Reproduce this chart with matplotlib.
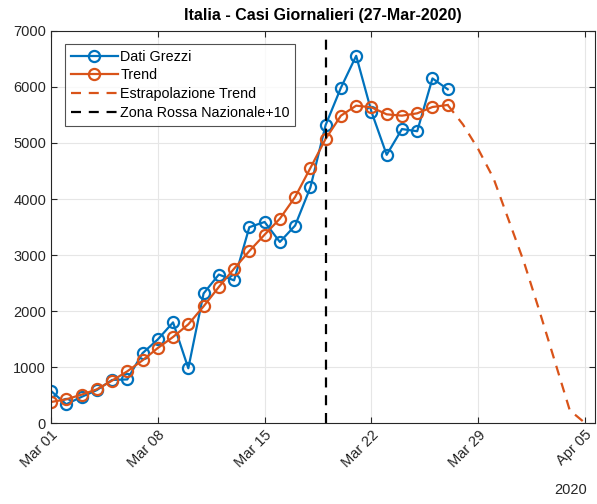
import numpy as np
import matplotlib
matplotlib.use("Agg")
import matplotlib.pyplot as plt
import matplotlib.dates as mdates
from datetime import datetime, timedelta

plt.rcParams['font.family'] = ['Liberation Sans', 'DejaVu Sans']

start = datetime(2020, 3, 1)

# daily new cases, Mar 01 .. Mar 27
dati_grezzi = [573, 335, 466, 587, 769, 778, 1247, 1492, 1797, 977,
               2313, 2651, 2547, 3497, 3590, 3233, 3526, 4207, 5322, 5986,
               6557, 5560, 4789, 5249, 5210, 6153, 5959]
# trend, Mar 01 .. Mar 27
trend = [375, 423, 506, 601, 756, 923, 1119, 1339, 1536, 1762,
         2083, 2429, 2756, 3071, 3363, 3649, 4036, 4554, 5075, 5488,
         5667, 5637, 5512, 5488, 5530, 5643, 5679]
# extrapolated trend, Mar 27 .. Apr 05
estrapolazione = [5679, 5330, 4890, 4370, 3620, 2870, 2010, 1120, 226, 0]

zona_rossa = datetime(2020, 3, 19)

blue = '#0072BD'
orange = '#D95319'

d_obs = [start + timedelta(days=i) for i in range(len(dati_grezzi))]
d_ext = [d_obs[-1] + timedelta(days=i) for i in range(len(estrapolazione))]

fig = plt.figure(figsize=(5.97, 5.04), dpi=100)
ax = fig.add_axes([0.0854, 0.1607, 0.9112, 0.7778])

ax.plot(d_obs, dati_grezzi, '-o', color=blue, lw=1.6, ms=8, mfc='none', mew=1.6,
        label='Dati Grezzi')
ax.plot(d_obs, trend, '-o', color=orange, lw=1.6, ms=8, mfc='none', mew=1.6,
        label='Trend')
ax.plot(d_ext, estrapolazione, '--', color=orange, lw=1.6, dashes=(4.5, 3.5),
        label='Estrapolazione Trend')
ax.axvline(zona_rossa, color='black', ls='--', lw=1.6, dashes=(4.5, 3.5),
           label='Zona Rossa Nazionale+10')

ax.set_xlim(start, start + timedelta(days=35.65))
ax.set_ylim(0, 7000)
ax.set_yticks(np.arange(0, 7001, 1000))
ticks = [start + timedelta(days=7 * i) for i in range(6)]
ax.set_xticks(ticks)
ax.xaxis.set_major_formatter(mdates.DateFormatter('%b %d'))
for lab in ax.get_xticklabels():
    lab.set_rotation(45)
    lab.set_ha('right')
    lab.set_rotation_mode('anchor')

ax.grid(True, color='#e6e6e6', lw=0.8)
ax.set_axisbelow(True)
ax.tick_params(direction='in', length=4, colors='#262626', labelsize=10.5,
               top=True, right=True, labeltop=False, labelright=False)
for s in ax.spines.values():
    s.set_color('#262626')
    s.set_linewidth(0.8)

ax.set_title('Italia - Casi Giornalieri (27-Mar-2020)', fontsize=11.5,
             fontweight='bold', pad=8)
fig.text(0.955, 0.02, '2020', fontsize=10.5, color='#262626', ha='center')

leg = ax.legend(loc='upper left', bbox_to_anchor=(0.026, 0.967), fontsize=10.3,
                frameon=True, fancybox=False, edgecolor='#262626',
                handlelength=3.3, borderpad=0.4, labelspacing=0.33,
                handletextpad=0.15, borderaxespad=0)
leg.get_frame().set_linewidth(0.8)

fig.savefig('out.png', dpi=100)
